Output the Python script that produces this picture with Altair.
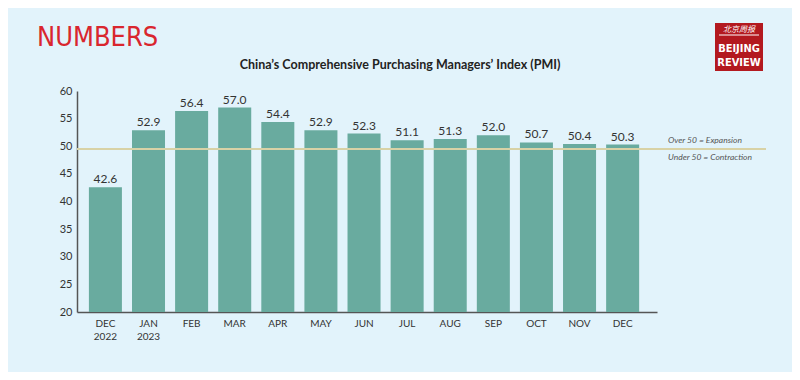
import altair as alt
import pandas as pd

months = ["DEC 2022", "JAN 2023", "FEB", "MAR", "APR", "MAY", "JUN",
          "JUL", "AUG", "SEP", "OCT", "NOV", "DEC"]
pmi = [42.6, 52.9, 56.4, 57.0, 54.4, 52.9, 52.3, 51.1, 51.3, 52.0, 50.7, 50.4, 50.3]
y_ticks = [20, 25, 30, 35, 40, 45, 50, 55, 60]

keys = [f"{i:02d}|{m}" for i, m in enumerate(months)]
df = pd.DataFrame({"key": keys, "month": months, "pmi": pmi,
                   "label": [f"{v:.1f}" for v in pmi]})

BG = "#e2f3fb"
BAR = "#69ab9f"
TXT = "#333333"
FONT = "Lato"
COND = "'DejaVu Sans Condensed', 'Roboto Condensed', Roboto, sans-serif"

x = alt.X("key:N", sort=keys,
          scale=alt.Scale(paddingInner=0.234, paddingOuter=0.345, align=0.4),
          axis=alt.Axis(title=None, labelAngle=0, ticks=False,
                        labelExpr="split(split(datum.value, '|')[1], ' ')",
                        labelFontSize=10, labelColor=TXT, labelFont=FONT,
                        labelPadding=6, labelLineHeight=13,
                        domainColor="#555555", domainWidth=1.5))
y = alt.Y("pmi:Q", scale=alt.Scale(domain=[20, 60], zero=False, nice=False),
          axis=alt.Axis(title=None, values=y_ticks, grid=False, ticks=False,
                        labelOverlap=False,
                        labelFontSize=11, labelColor=TXT, labelFont=FONT,
                        labelPadding=5, domainColor="#555555", domainWidth=1.5))

base = alt.Chart(df)
bars = base.mark_bar(color=BAR).encode(x=x, y=y, y2=alt.datum(20))
labels = base.mark_text(dy=-8, fontSize=12, color=TXT, font=FONT).encode(
    x=x, y=y, text="label:N")

rule = alt.Chart(pd.DataFrame({"pmi": [49.5]})).mark_rule(
    color="#d8d2a6", strokeWidth=2).encode(
    y=y, x=alt.value(0), x2=alt.value(689))

def txt(t, xv, yv, **kw):
    return alt.Chart(pd.DataFrame({"t": [t]})).mark_text(**kw).encode(
        text="t:N", x=alt.value(xv), y=alt.value(yv))

over = txt("Over 50 = Expansion", 591, 49, align="left", baseline="middle",
           fontSize=8.5, fontStyle="italic", color="#555555", font=FONT)
under = txt("Under 50 = Contraction", 591, 66, align="left", baseline="middle",
            fontSize=8.5, fontStyle="italic", color="#555555", font=FONT)
title = txt("China\u2019s Comprehensive Purchasing Managers\u2019 Index (PMI)", 323, -22,
            align="center", baseline="alphabetic", fontSize=12.5, fontWeight="bold",
            color="#222222", font=FONT)
numbers = txt("NUMBERS", -40, -45, align="left", baseline="alphabetic",
              fontSize=27, color="#d9262e", font=COND)

logo_rect = alt.Chart(pd.DataFrame({"a": [0]})).mark_rect(color="#b3191f").encode(
    x=alt.value(638), x2=alt.value(686), y=alt.value(-68), y2=alt.value(-20))
logo_line = alt.Chart(pd.DataFrame({"a": [0]})).mark_rule(color="white", strokeWidth=1).encode(
    x=alt.value(642), x2=alt.value(682), y=alt.value(-56))
logo_cn = txt("北京周报", 662, -61, align="center", baseline="middle", fontSize=8,
              color="white", font="Noto Sans CJK SC", fontStyle="italic")
logo_b = txt("BEIJING", 662, -42, align="center", baseline="middle", fontSize=11,
             fontWeight="bold", color="white", font=COND)
logo_r = txt("REVIEW", 662, -28, align="center", baseline="middle", fontSize=11,
             fontWeight="bold", color="white", font=COND)

chart = alt.layer(bars, rule, labels, over, under, title, numbers,
                  logo_rect, logo_line, logo_cn, logo_b, logo_r).properties(
    width=580, height=221,
    autosize=alt.AutoSizeParams(type="none"),
    padding={"left": 69, "top": 83, "right": 135, "bottom": 60},
    background=BG,
).configure_view(stroke=None)

chart.save("out.html", embed_options={"renderer": "svg", "actions": False})
